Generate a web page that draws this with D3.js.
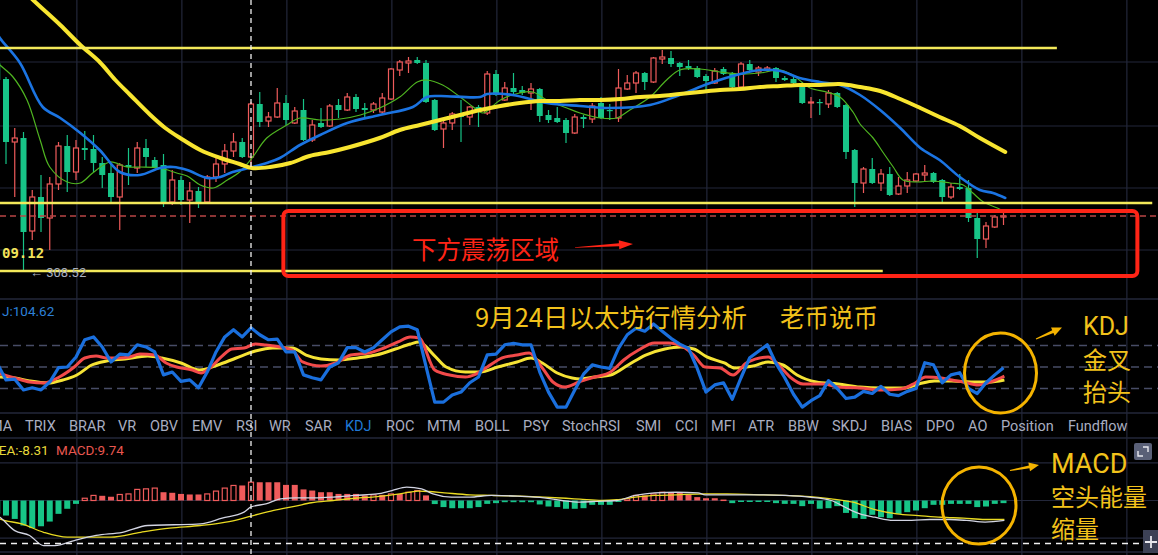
<!DOCTYPE html>
<html><head><meta charset="utf-8">
<script src="https://cdn.jsdelivr.net/npm/d3@7"></script>
<style>html,body{margin:0;padding:0;background:#000;overflow:hidden}svg{display:block}</style>
</head><body><svg id="c" width="1158" height="555"></svg>
<script>
// ---------- DATA (candle index starts at -1) ----------
const firstIndex = -1;
const candleOpen = [1637,
 1621,1558,1562,1469,1503,1482,1516,1554,1528,1552, 1551,1537,1527,1503,1535,1532,1552,1540,1535,1498,
 1520,1500,1509,1498,1523,1536,1549,1558,1543,1596, 1579,1583,1597,1577,1590,1560,1577,1574,1595,1590,
 1603,1592,1590,1588,1601,1630,1637,1640,1637,1600, 1571,1577,1585,1583,1593,1587,1626,1600,1612,1610,
 1607,1611,1585,1582,1580,1567,1583,1581,1597,1590, 1582,1611,1617,1627,1618,1641,1642,1637,1634,1632,
 1624,1617,1631,1626,1613,1636,1628,1630,1632,1622, 1621,1613,1597,1598,1596,1607,1595,1550,1517,1531,
 1517,1526,1506,1514,1519,1525,1527,1520,1503,1513, 1512,1482,1461,1473,1483];
const candleHigh = [1642,
 1623,1572,1568,1510,1525,1523,1558,1565,1560,1569, 1565,1543,1536,1537,1552,1558,1561,1543,1546,1530,
 1524,1518,1513,1525,1543,1556,1567,1562,1598,1608, 1588,1612,1605,1593,1601,1580,1592,1596,1601,1607,
 1606,1597,1598,1607,1632,1640,1643,1643,1640,1601, 1582,1588,1600,1594,1595,1629,1630,1618,1627,1614,
 1617,1612,1590,1593,1582,1586,1585,1597,1603,1596, 1631,1625,1629,1628,1643,1650,1649,1638,1640,1634,
 1626,1632,1633,1628,1638,1640,1634,1634,1633,1624, 1624,1618,1603,1601,1610,1608,1596,1551,1533,1542,
 1531,1533,1523,1528,1527,1535,1528,1521,1517,1526, 1520,1487,1478,1485,1488];
const candleLow = [1618,
 1536,1503,1430,1460,1468,1450,1510,1508,1520,1540, 1528,1512,1498,1470,1515,1527,1533,1532,1493,1495,
 1495,1477,1492,1497,1518,1527,1543,1542,1533,1573, 1573,1582,1575,1576,1559,1558,1572,1573,1582,1589,
 1588,1582,1587,1585,1600,1624,1627,1636,1597,1569, 1552,1570,1558,1575,1573,1585,1604,1599,1605,1605,
 1590,1578,1577,1577,1557,1566,1572,1577,1581,1580, 1578,1610,1607,1610,1617,1636,1633,1624,1630,1622,
 1608,1616,1625,1612,1612,1629,1624,1628,1618,1619, 1614,1596,1582,1585,1592,1592,1541,1493,1507,1516,
 1509,1504,1505,1507,1518,1518,1517,1498,1501,1510, 1478,1442,1452,1472,1475];
const candleClose = [1620,
 1558,1562,1468,1503,1482,1516,1554,1528,1552,1550, 1537,1525,1503,1535,1533,1552,1543,1533,1498,1520,
 1500,1509,1498,1523,1536,1549,1558,1543,1596,1578, 1583,1597,1580,1589,1560,1575,1573,1594,1590,1603,
 1591,1590,1596,1602,1631,1638,1639,1637,1598,1570, 1577,1586,1583,1593,1588,1626,1605,1612,1608,1607,
 1611,1584,1580,1578,1567,1583,1581,1594,1582,1589, 1612,1617,1627,1618,1642,1643,1636,1633,1632,1623,
 1619,1629,1626,1613,1636,1630,1632,1632,1622,1620, 1617,1597,1598,1597,1607,1593,1548,1517,1531,1517,
 1526,1505,1514,1520,1526,1527,1518,1503,1513,1511, 1482,1461,1474,1483,1484];

// moving averages: [candle index, price]
const maLong = [[-1,1735],[3.1,1700],[6.2,1675],[8.5,1655],[10.7,1638],[12.5,1620],[14.2,1605],[16.5,1585],[18.2,1572],
 [19.9,1562],[22.2,1550],[24.5,1542],[26.7,1536],[28.1,1532],[30.2,1533],[32.5,1537],[34.7,1544],[37,1548],[39.3,1553],
 [42.7,1562],[45,1570],[47.3,1575],[49.6,1580],[51.9,1585],[54.2,1590],[56.5,1594],[58.7,1597],[61,1599],[63.3,1599],
 [65.6,1600],[67.9,1600],[70.2,1601],[72.5,1603],[74.7,1604],[77,1606],[79.3,1608],[81.6,1610],[83.9,1611],[86.2,1613],
 [88.5,1614],[90.7,1615],[93,1615],[95.3,1616],[97.6,1613],[99.9,1609],[102.2,1601],[104.5,1592],[106.7,1583],[109,1574],
 [111.3,1562],[114.2,1548]];
const maMid = [[-1,1667],[-0.7,1662],[1.6,1637],[4.2,1593],[6.2,1582],[8.5,1567],[10.7,1550],[13,1528],[15.3,1525],
 [17.6,1532],[19.1,1533],[20.7,1530],[23,1522],[24.5,1523],[25.9,1528],[28.2,1533],[29.8,1537],[31.3,1542],[33.6,1555],
 [35.9,1565],[39,1577],[42.7,1585],[46.5,1593],[48.1,1603],[49.6,1604],[54.2,1603],[55,1606],[57.9,1605],[61.8,1597],
 [65.6,1594],[69,1592],[73.6,1595],[77,1605],[80.5,1617],[83.9,1626],[86.2,1630],[88.5,1629],[90.7,1622],[93,1618],
 [95.3,1615],[97.6,1605],[99.9,1590],[102.2,1572],[104.5,1552],[106.7,1540],[109,1523],[111.3,1510],[112.8,1507],[114.2,1502]];
const maShort = [[-1,1638],[-0.7,1635],[0.8,1623],[2.4,1600],[3.9,1560],[5,1533],[7,1518],[8.5,1517],[9.9,1527],
 [11.9,1538],[13.8,1533],[15.3,1533],[17.6,1532],[19.5,1527],[20.7,1524],[22.2,1515],[23.7,1512],[25.3,1520],[26.7,1528],
 [28.2,1543],[29.8,1562],[32.1,1575],[33.6,1582],[35.9,1580],[38.2,1581],[40.5,1585],[42.7,1592],[45,1603],[47,1618],
 [48.1,1620],[49.9,1615],[51.9,1603],[53.4,1593],[54.5,1587],[56.5,1600],[58.7,1607],[60.2,1608],[61.8,1600],[64.1,1592],
 [65.6,1587],[67.9,1582],[69.8,1582],[71.3,1590],[73.6,1603],[75.5,1620],[77,1630],[79.3,1631],[81.6,1628],[83.9,1626],
 [86.2,1627],[88.5,1630],[89.9,1625],[91.9,1612],[93.8,1608],[95.3,1603],[96.8,1588],[97.6,1576],[99.1,1562],[100.2,1548],
 [101.4,1533],[102.5,1520],[104.1,1518],[105.9,1519],[107.9,1517],[109.4,1515],[110.5,1507],[111.7,1498],[113.3,1492],[114.2,1488]];

// drawn levels
const levelPrices = [1652, 1497, 1429];
const levelEnds = [120.1, 131, 100.2];
const currentPrice = 1484;
const zoneBox = {i0: 31.7, i1: 129.3, top: 1489, bottom: 1424};

// KDJ
const kdjJ = [55,
 32,33,18,21,18,29,49,50,64,88, 92,78,57,68,67,81,78,71,39,43,
 30,32,21,43,71,92,102,92,104.62,95, 88,89,71,71,39,35,32,50,56,77,
 77,71,77,88,99,106,107,102,51,1, 1,11,15,28,36,67,68,81,83,81,
 81,43,15,-6,-6,18,40,53,50,48, 76,95,104,100,110,100,90,82,76,48,
 15,25,28,5,35,63,72,81,55,35, 12,-6,3,10,31,20,6,8,16,13,
 23,12,10,16,20,56,53,28,39,42, 20,13,28,39,49];
const kdjK = [[-1,42],[1,34.7],[2.7,29.1],[4.3,27.7],[6.1,36.1],[7.8,50],[9,62.6],[10.3,65.3],[11.5,62.6],[12.8,62.6],
 [14.1,64],[15.3,68.1],[17,66.7],[18.3,55.6],[19.5,50],[21.3,45.8],[22.3,41.6],[23.3,48.6],[24.6,64],[25.8,75.1],
 [27.2,76.5],[28.5,82.1],[29.7,80.7],[31.3,77.9],[32.7,73.7],[33.9,57],[36,51.4],[37.7,55.6],[39.4,66.7],[41.5,69.5],
 [43.2,76.5],[44.8,84.9],[46.2,91.9],[47.2,90.5],[49,45.8],[50.7,38.8],[52.5,36.1],[53.7,40.2],[55,50],[56.7,62.6],
 [58.4,66.7],[59.8,69.5],[61.3,48.6],[62.5,29.1],[63.9,22.1],[65.5,29.1],[67.3,36.1],[69.1,43],[70.6,59.8],[72.3,73.7],
 [74.1,83.5],[75.7,83.5],[77.4,77.9],[78.6,66.7],[79.9,50],[81.6,48.6],[83.1,38.8],[84.6,55.6],[87.1,64],[88.3,52.8],
 [89.6,36.1],[91.1,26.3],[93.4,26.3],[95.1,22.1],[97.6,20.7],[100.1,17.9],[102.3,19.3],[103.9,27.7],[105.1,36.1],
 [106.9,34.7],[108.1,31.9],[109.4,29.1],[111.1,24.9],[112.8,30.5],[114.1,37.4]];
const kdjD = [[-1,36],[1,34.7],[2.7,30.5],[4.8,27.7],[6.5,31.9],[8.1,38.8],[9.8,52.8],[11.5,58.4],[13.6,61.2],[16.2,65.3],
 [17.8,62.6],[20,55.6],[22.1,45.8],[24.2,52.8],[26.3,62.6],[28.5,72.3],[30.5,76.5],[32.7,76.5],[34.3,66.7],[36,61.2],
 [38.1,59.8],[40.2,62.6],[42.3,66.7],[44.5,75.1],[46.2,82.1],[47.2,84.9],[48.9,66.7],[50.3,50],[52.5,43],[54.2,43],
 [56.2,50],[58.4,57],[60,62.6],[61.3,55.6],[63,41.6],[64.7,34.7],[65.6,33.3],[67.3,36.1],[69.1,38.8],[71.1,52.8],
 [73.1,66.7],[75.3,75.1],[77.1,77.9],[78.6,75.1],[80.1,64],[82.1,55.6],[83.3,48.6],[85.4,51.4],[87.1,57],[88.8,52.8],
 [90.4,38.8],[92.6,29.1],[95.1,26.3],[97.6,22.1],[100.1,20.7],[102.6,20.7],[104.3,26.3],[106.1,30.5],[108.1,30.5],
 [110.3,29.1],[112.3,29.1],[114.1,31.9]];

// MACD
const macdHist = [-7,
 -8.0,-9.8,-13.3,-14.7,-13.7,-11.2,-7.1,-4.4,-1.8,1.2, 2.7,2.5,2.0,3.2,3.5,5.9,6.2,6.6,4.4,4.1,
 3.5,3.2,3.2,3.5,5.0,6.6,8.0,8.0,9.74,9.7, 9.7,9.7,8.3,8.3,5.9,5.3,4.4,4.4,3.5,3.5,
 3.5,2.7,3.0,3.0,3.5,3.5,4.4,5.3,2.7,-1.9, -3.5,-4.1,-4.1,-4.1,-3.5,-1.8,-1.4,-0.9,-0.9,-0.9,
 -0.9,-2.1,-3.2,-3.5,-4.4,-4.4,-4.1,-2.3,-2.3,-2.3, -0.5,0.9,2.7,2.7,3.5,4.4,4.4,4.1,3.0,1.8,
 1.2,1.2,0.5,-1.4,-0.5,-0.5,-0.5,-0.5,-1.4,-1.8, -1.8,-3.0,-1.8,-4.4,-4.1,-3.0,-6.6,-9.4,-9.8,-7.6,
 -8.9,-9.4,-7.1,-6.2,-5.3,-4.1,-2.3,-2.3,-1.8,-1.8, -1.8,-3.5,-3.2,-1.8,-1.4];
const macdDif = [[-1,-8],[-0.7,-8.9],[1,-16],[2.7,-18.6],[4.3,-24],[5.6,-24],[7.8,-21.3],[10.3,-18.6],[13.3,-16.9],
 [16.2,-13.3],[19.2,-12.9],[22.2,-12.4],[24.7,-9.4],[27.2,-6.2],[28,-3.44],[29.7,-1.8],[31.4,0.9],[33.1,1.4],[35.2,1.4],
 [37.4,1.8],[39.9,2.7],[42.4,3.5],[44.1,5.3],[45.8,7.1],[47.5,6.2],[48.8,3.5],[50.9,1.8],[53,1.8],[55.5,2.7],[58.5,2.3],
 [61.5,1.4],[63.5,0],[65.6,-0.9],[67.3,-0.5],[69.8,0],[71.9,2.7],[74.1,4.1],[76.6,4.4],[79.1,4.1],[79.9,3.0],[82.4,3.0],
 [86.6,3.0],[89.1,2.7],[91.8,1.8],[94.3,0],[95.9,-3.6],[97.6,-7.1],[99.3,-8.9],[101.4,-10.6],[103.5,-10.6],[105.6,-10.1],
 [107.8,-10.1],[109.8,-10.6],[111.9,-11.5],[114.1,-10.6]];
const macdDea = [[-1,-9],[-0.7,-9.8],[1.8,-12.4],[4.3,-16.9],[7,-19.5],[9.5,-19.5],[12,-19.5],[15.4,-16.9],[18.7,-14.7],
 [22.2,-13.3],[25.5,-11.2],[28,-8.31],[30.6,-5.3],[33.1,-3.0],[34.9,-1.2],[37.4,0],[39.9,1.2],[42.4,2.1],[45,3.5],
 [47.1,5.0],[48.3,4.8],[50.1,4.1],[53,3.0],[55.5,2.7],[58.5,2.3],[61.5,1.8],[64,1.2],[65.6,0.7],[68.1,0],[69.8,0.4],
 [71.9,1.8],[74.1,2.7],[76.6,3.0],[79.9,3.5],[82.4,3.5],[86.6,3.0],[90.9,2.3],[94.3,0.9],[96.8,-0.9],[99.3,-4.8],
 [101.8,-7.1],[104.3,-8.0],[106.9,-8.9],[109.4,-9.4],[111.9,-10.1],[114.1,-10.1]];

const crosshairIndex = 28;
const tabLabels = ["MA","TRIX","BRAR","VR","OBV","EMV","RSI","WR","SAR","KDJ","ROC","MTM","BOLL","PSY","StochRSI","SMI","CCI","MFI","ATR","BBW","SKDJ","BIAS","DPO","AO","Position","Fundflow"];
const activeTab = "KDJ";

// ---------- SCALES ----------
const W = 1158, H = 555;
const x = d3.scaleLinear().domain([0, 114]).range([6, 1003.5]);
const yP = d3.scaleLinear().domain([1700, 1400]).range([0, 300]);
const yK = d3.scaleLinear().domain([20, 80]).range([388.5, 345.5]);
const yM = d3.scaleLinear().domain([0, 10]).range([500.5, 481.7]);

const C = {bg:"#000", grid:"#23273a", up:"#ef5b5b", down:"#17c487", maL:"#f8e530", maM:"#1b74e2", maS:"#4fb521",
  level:"#f3e95a", red:"#ff2416", gold:"#f2c21b", orange:"#f4b300", kJ:"#1a6fdd", kK:"#f24a4a", kD:"#f5e335",
  dif:"#d2d4e2", dea:"#e9da22", tab:"#a9aec0"};

const svg = d3.select("#c");
svg.append("rect").attr("width", W).attr("height", H).attr("fill", C.bg);
const defs = svg.append("defs");
defs.append("clipPath").attr("id","clipMain").append("rect").attr("x",0).attr("y",0).attr("width",W).attr("height",298);
defs.append("clipPath").attr("id","clipKdj").append("rect").attr("x",0).attr("y",300).attr("width",W).attr("height",112);
defs.append("clipPath").attr("id","clipMacd").append("rect").attr("x",0).attr("y",439).attr("width",W).attr("height",113);

const idxs = d3.range(firstIndex, firstIndex + candleOpen.length);

// ---------- GRID ----------
const g = svg.append("g");
const vGrid = d3.range(0, 11).map(k => 8.1 + 12 * k);
g.selectAll(".vg").data(vGrid).join("line").attr("x1", d => x(d)).attr("x2", d => x(d))
  .attr("y1", 0).attr("y2", H).attr("stroke", C.grid).attr("stroke-width", 1.2);
const mainTicks = [1638, 1574, 1512, 1450];
g.selectAll(".hg").data(mainTicks).join("line").attr("x1", 0).attr("x2", W)
  .attr("y1", d => yP(d)).attr("y2", d => yP(d)).attr("stroke", C.grid).attr("stroke-width", 1.2);
[299, 413, 438, 552].forEach(yy => g.append("line").attr("x1",0).attr("x2",W).attr("y1",yy).attr("y2",yy)
  .attr("stroke", C.grid).attr("stroke-width", 1.5));
[20, 0, -20].forEach(v => g.append("line").attr("x1",0).attr("x2",W).attr("y1",yM(v)).attr("y2",yM(v))
  .attr("stroke", C.grid).attr("stroke-width", 1.2));
[80, 50, 20].forEach(v => g.append("line").attr("x1",0).attr("x2",W).attr("y1",yK(v)).attr("y2",yK(v))
  .attr("stroke", "#474c66").attr("stroke-width", 1.3).attr("stroke-dasharray","8,5"));

// ---------- MAIN PANEL ----------
const main = svg.append("g").attr("clip-path","url(#clipMain)");
const bw = 6;
const cg = main.append("g");
idxs.forEach((i, k) => {
  const o = candleOpen[k], h = candleHigh[k], l = candleLow[k], c = candleClose[k];
  const up = c >= o;
  const col = up ? C.up : C.down;
  const cx = x(i);
  cg.append("line").attr("x1", cx).attr("x2", cx).attr("y1", yP(h)).attr("y2", yP(l))
    .attr("stroke", col).attr("stroke-width", 1.2);
  const top = yP(Math.max(o, c)), bot = yP(Math.min(o, c));
  if (up) {
    cg.append("rect").attr("x", cx - bw/2 + 0.5).attr("y", top).attr("width", bw - 1).attr("height", Math.max(1, bot - top))
      .attr("fill", "#000").attr("stroke", col).attr("stroke-width", 1.2);
  } else {
    cg.append("rect").attr("x", cx - bw/2).attr("y", top).attr("width", bw).attr("height", Math.max(1.2, bot - top))
      .attr("fill", col);
  }
});
const maLine = d3.line().x(d => x(d[0])).y(d => yP(d[1])).curve(d3.curveCatmullRom);
main.append("path").attr("d", maLine(maShort)).attr("fill","none").attr("stroke", C.maS).attr("stroke-width", 1.2);
main.append("path").attr("d", maLine(maMid)).attr("fill","none").attr("stroke", C.maM).attr("stroke-width", 2.6).attr("stroke-linecap","round");
main.append("path").attr("d", maLine(maLong)).attr("fill","none").attr("stroke", C.maL).attr("stroke-width", 4).attr("stroke-linecap","round");

// levels
levelPrices.forEach((p, k) => {
  main.append("line").attr("x1", 0).attr("x2", x(levelEnds[k])).attr("y1", yP(p)).attr("y2", yP(p))
    .attr("stroke", C.level).attr("stroke-width", 2.6);
});
main.append("line").attr("x1", 0).attr("x2", W).attr("y1", yP(currentPrice)).attr("y2", yP(currentPrice))
  .attr("stroke", "#b94545").attr("stroke-width", 1.5).attr("stroke-dasharray", "6,4");
main.append("rect").attr("x", x(zoneBox.i0)).attr("y", yP(zoneBox.top))
  .attr("width", x(zoneBox.i1) - x(zoneBox.i0)).attr("height", yP(zoneBox.bottom) - yP(zoneBox.top))
  .attr("rx", 5).attr("fill", "none").attr("stroke", C.red).attr("stroke-width", 4);

main.append("text").attr("x", 2).attr("y", 258).text("09.12")
  .attr("fill", "#f2e35a").attr("font-family", "DejaVu Sans Mono").attr("font-size", 14).attr("font-weight", "bold");
main.append("text").attr("x", 30).attr("y", 277).text("\u2190 308.52")
  .attr("fill", "#a9afbf").attr("font-family", "Roboto").attr("font-size", 13);

function arrow(sel, x1, y1, x2, y2, hl, hw, tw0, tw1, col) {
  const dx = x2 - x1, dy = y2 - y1, L = Math.hypot(dx, dy), ux = dx / L, uy = dy / L, nx = -uy, ny = ux;
  const bx = x2 - ux * hl, by = y2 - uy * hl;
  const pts = [[x1 + nx*tw0/2, y1 + ny*tw0/2], [bx + nx*tw1/2, by + ny*tw1/2], [bx + nx*hw/2, by + ny*hw/2], [x2, y2],
    [bx - nx*hw/2, by - ny*hw/2], [bx - nx*tw1/2, by - ny*tw1/2], [x1 - nx*tw0/2, y1 - ny*tw0/2]];
  sel.append("path").attr("d", "M" + pts.map(p => p.join(",")).join("L") + "Z").attr("fill", col);
}
svg.append("text").attr("x", 412).attr("y", 259).text("下方震荡区域")
  .attr("fill", C.red).attr("font-family", "Noto Sans CJK SC").attr("font-size", 24.5);
arrow(svg, 575, 247.5, 633, 244, 14, 9, 0.6, 3, C.red);

// ---------- KDJ PANEL ----------
const kdj = svg.append("g").attr("clip-path","url(#clipKdj)");
const kLine = d3.line().x(d => x(d[0])).y(d => yK(d[1])).curve(d3.curveMonotoneX);
kdj.append("path").attr("d", kLine(kdjD)).attr("fill","none").attr("stroke", C.kD).attr("stroke-width", 3).attr("stroke-linejoin","round");
kdj.append("path").attr("d", kLine(kdjK)).attr("fill","none").attr("stroke", C.kK).attr("stroke-width", 3).attr("stroke-linejoin","round");
const jLine = d3.line().x((d, k) => x(firstIndex + k)).y(d => yK(d));
kdj.append("path").attr("d", jLine(kdjJ)).attr("fill","none").attr("stroke", C.kJ).attr("stroke-width", 3.2).attr("stroke-linejoin","round");
svg.append("text").attr("x", 2).attr("y", 316).text("J:" + kdjJ[crosshairIndex - firstIndex])
  .attr("fill", "#2d80d8").attr("font-family", "Roboto").attr("font-size", 13.5);
svg.append("text").attr("x", 475).attr("y", 327).text("9月24日以太坊行情分析")
  .attr("fill", C.gold).attr("font-family", "Noto Sans CJK SC").attr("font-size", 25.5);
svg.append("text").attr("x", 780).attr("y", 327).text("老币说币")
  .attr("fill", C.gold).attr("font-family", "Noto Sans CJK SC").attr("font-size", 24.5);

// ---------- TABS ----------
const tabX = [-10, 25, 69, 118, 150, 192, 236, 269, 305, 345, 386, 427, 475, 523, 562, 636, 675, 711, 748, 788, 832, 881, 926, 968, 1001, 1068];
svg.selectAll(".tab").data(tabLabels).join("text").attr("x", (d, k) => tabX[k]).attr("y", 431)
  .text(d => d).attr("fill", d => d === activeTab ? "#1f78d6" : C.tab)
  .attr("font-family", "Roboto").attr("font-size", 14.5);

// ---------- MACD PANEL ----------
const macd = svg.append("g").attr("clip-path","url(#clipMacd)");
macdHist.forEach((v, k) => {
  const i = firstIndex + k, cx = x(i);
  const prev = k > 0 ? macdHist[k - 1] : v;
  if (v >= 0) {
    const hollow = v > prev;
    const top = yM(v), bot = yM(0);
    if (hollow) macd.append("rect").attr("x", cx - bw/2 + 0.5).attr("y", top).attr("width", bw - 1).attr("height", Math.max(1, bot - top))
      .attr("fill", "#000").attr("stroke", C.up).attr("stroke-width", 1.2);
    else macd.append("rect").attr("x", cx - bw/2).attr("y", top).attr("width", bw).attr("height", Math.max(1.5, bot - top)).attr("fill", C.up);
  } else {
    const top = yM(0), bot = yM(v);
    macd.append("rect").attr("x", cx - bw/2).attr("y", top).attr("width", bw).attr("height", Math.max(1.5, bot - top)).attr("fill", C.down);
  }
});
const mLine = d3.line().x(d => x(d[0])).y(d => yM(d[1])).curve(d3.curveMonotoneX);
macd.append("path").attr("d", mLine(macdDea)).attr("fill","none").attr("stroke", C.dea).attr("stroke-width", 1.3);
macd.append("path").attr("d", mLine(macdDif)).attr("fill","none").attr("stroke", C.dif).attr("stroke-width", 1.3);
svg.append("text").attr("x", -10).attr("y", 455).text("DEA:" + macdDea.find(d => d[0] === crosshairIndex)[1])
  .attr("fill", "#e8d93a").attr("font-family", "Roboto").attr("font-size", 13.5);
svg.append("text").attr("x", 56).attr("y", 455).text("MACD:" + macdHist[crosshairIndex - firstIndex])
  .attr("fill", "#e8574f").attr("font-family", "Roboto").attr("font-size", 13.5);

// crosshair
svg.append("line").attr("x1", x(crosshairIndex)).attr("x2", x(crosshairIndex)).attr("y1", 0).attr("y2", H)
  .attr("stroke", "#f0f0f0").attr("stroke-width", 1.3).attr("stroke-dasharray", "5,4");
svg.append("line").attr("x1", 0).attr("x2", 1142).attr("y1", 543.5).attr("y2", 543.5)
  .attr("stroke", "#f0f0f0").attr("stroke-width", 1.3).attr("stroke-dasharray", "6,5");

// icons
svg.append("rect").attr("x", 1134).attr("y", 443).attr("width", 18).attr("height", 17).attr("rx", 2).attr("fill", "#5a6077");
svg.append("path").attr("d", "M1143,447 L1148,447 L1148,452 M1143,456 L1138,456 L1138,451").attr("fill","none").attr("stroke","#e8e8ee").attr("stroke-width",1.4);
svg.append("rect").attr("x", 1143).attr("y", 530).attr("width", 15).attr("height", 23).attr("fill", "#3c4155");
svg.append("path").attr("d", "M1151,536 L1151,548 M1145,542 L1157,542").attr("stroke","#e8e8ee").attr("stroke-width",1.8);

// ---------- ANNOTATIONS ----------
svg.append("ellipse").attr("cx", 1000.5).attr("cy", 373).attr("rx", 36).attr("ry", 40)
  .attr("fill","none").attr("stroke", C.orange).attr("stroke-width", 3);
arrow(svg, 1036, 339, 1062, 327.5, 10, 9, 1, 3, C.orange);
[["KDJ", 335], ["金叉", 369], ["抬头", 401]].forEach(([t, yy]) =>
  svg.append("text").attr("x", 1083).attr("y", yy).text(t).attr("fill", C.gold)
    .attr("font-family", t === "KDJ" ? "Roboto" : "Noto Sans CJK SC").attr("font-size", t === "KDJ" ? 25 : 24));
svg.append("ellipse").attr("cx", 979).attr("cy", 505.5).attr("rx", 37).attr("ry", 38.5)
  .attr("fill","none").attr("stroke", C.orange).attr("stroke-width", 3);
arrow(svg, 1010, 470.5, 1039, 465, 10, 9, 1, 3, C.orange);
[["MACD", 473], ["空头能量", 506], ["缩量", 538]].forEach(([t, yy]) =>
  svg.append("text").attr("x", 1051).attr("y", yy).text(t).attr("fill", C.gold)
    .attr("font-family", t === "MACD" ? "Roboto" : "Noto Sans CJK SC").attr("font-size", t === "MACD" ? 27 : 24));
</script></body></html>
